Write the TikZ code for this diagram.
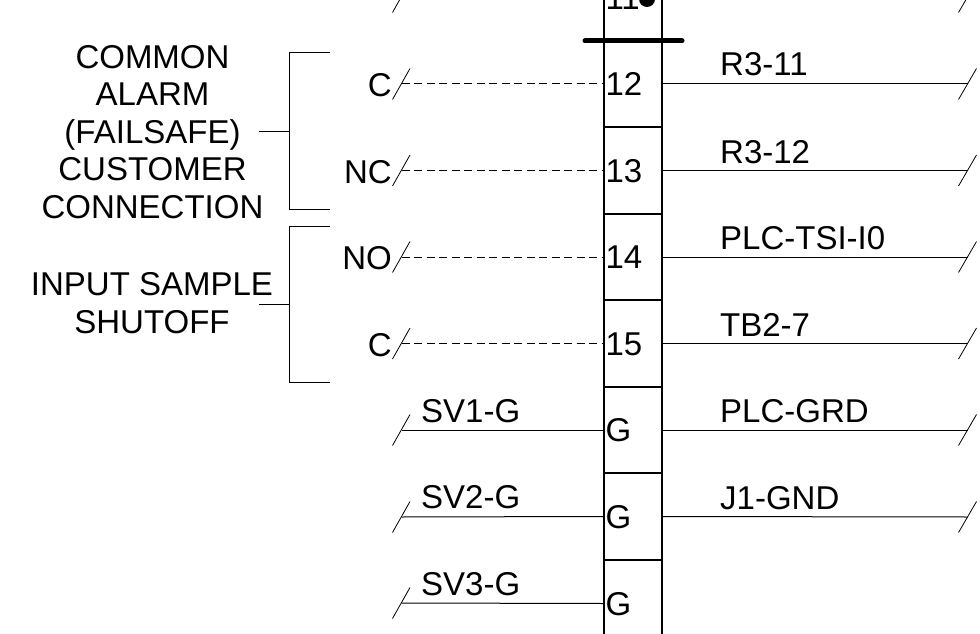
\documentclass[tikz,border=0pt]{standalone}
\usepackage{fontspec}
\setmainfont{Liberation Sans}
\tikzset{
  lbl/.style={inner sep=0pt,anchor=base west,font=\fontsize{33}{37.5}\selectfont},
  lblr/.style={inner sep=0pt,anchor=base east,font=\fontsize{33}{37.5}\selectfont},
  block/.style={inner sep=0pt,anchor=base,align=center,font=\fontsize{33}{37.5}\selectfont},
  cell/.style={draw=black,line width=2pt,minimum width=58pt,minimum height=86.5pt,inner xsep=1.5pt,inner ysep=0pt,
    text width=55pt,align=left,text height=23.5pt,text depth=0pt,font=\fontsize{33}{37.5}\selectfont},
  wire/.style={line width=1pt,black},
  dashwire/.style={line width=1pt,black,dash pattern=on 8pt off 4.5pt},
  slash/.style={line width=0.8pt,black},
  bus/.style={line width=5pt,line cap=round,black},
}
\begin{document}
\begin{tikzpicture}[x=1pt,y=-1pt]
\useasboundingbox (0,0) rectangle (980,634);
\clip (0,0) rectangle (980,634);
% terminal strip
\foreach \n/\t/\y in {t11/11/-2.5,t12/12/84,t13/13/170.5,t14/14/257,t15/15/343.5,g1/G/430,g2/G/516.5,g3/G/603.5}
  \node[cell] (\n) at (633,\y) {\t};
\coordinate (busL) at (585,41);
\coordinate (busR) at (682,41);
\draw[bus] (busL) -- (busR);
\fill[black] (647,-1) circle (8);
% left slashes
\foreach \n/\y in {t11/-3,t12/84,t13/170.5,t14/257,t15/343.5,g1/430,g2/517,g3/603}{
  \coordinate (\n-la) at (392.5,\y+15.5);
  \coordinate (\n-lb) at (410,\y-15.5);
  \coordinate (\n-lm) at (401.5,\y);
  \draw[slash] (\n-la) -- (\n-lb);
}
% right slashes
\foreach \n/\y in {t11/-3,t12/84,t13/170.5,t14/257,t15/343.5,g1/430,g2/517}{
  \coordinate (\n-ra) at (958.5,\y+15.5);
  \coordinate (\n-rb) at (976.5,\y-15.5);
  \coordinate (\n-rm) at (967.5,\y);
  \draw[slash] (\n-ra) -- (\n-rb);
  \draw[wire] (\n.east) -- (\n-rm);
}
% left wires
\foreach \n in {t12,t13,t14,t15}
  \draw[dashwire] (\n-lm) -- (\n.west);
\foreach \n in {g1,g2,g3}
  \draw[wire] (\n-lm) -- (\n.west);
% wire labels
\node[lbl] (r1) at (720,76) {R3-11};
\node[lbl] (r2) at (720,163) {R3-12};
\node[lbl] (r3) at (720,249) {PLC-TSI-I0};
\node[lbl] (r4) at (720,336) {TB2-7};
\node[lbl] (r5) at (720,422) {PLC-GRD};
\node[lbl] (r6) at (720,509) {J1-GND};
\node[lbl] (s1) at (421,422) {SV1-G};
\node[lbl] (s2) at (421,508) {SV2-G};
\node[lbl] (s3) at (421,595) {SV3-G};
\node[lblr] (c1) at (392,96) {C};
\node[lblr] (c2) at (392,183) {NC};
\node[lblr] (c3) at (392,269) {NO};
\node[lblr] (c4) at (392,356) {C};
% brackets
\coordinate (b1a) at (330,53);
\coordinate (b1b) at (289,53);
\coordinate (b1c) at (289,209);
\coordinate (b1d) at (330,209);
\coordinate (b1s) at (259,131);
\coordinate (b1m) at (289,131);
\draw[wire] (b1a) -- (b1b) -- (b1c) -- (b1d);
\draw[wire] (b1s) -- (b1m);
\coordinate (b2a) at (330,226);
\coordinate (b2b) at (289,226);
\coordinate (b2c) at (289,382);
\coordinate (b2d) at (330,382);
\coordinate (b2s) at (259,304);
\coordinate (b2m) at (289,304);
\draw[wire] (b2a) -- (b2b) -- (b2c) -- (b2d);
\draw[wire] (b2s) -- (b2m);
% group labels
\node[block] (alarm) at (152.5,218) {COMMON\\ALARM\\(FAILSAFE)\\CUSTOMER\\CONNECTION};
\node[block] (input) at (152,333) {INPUT SAMPLE\\SHUTOFF};
\end{tikzpicture}
\end{document}
